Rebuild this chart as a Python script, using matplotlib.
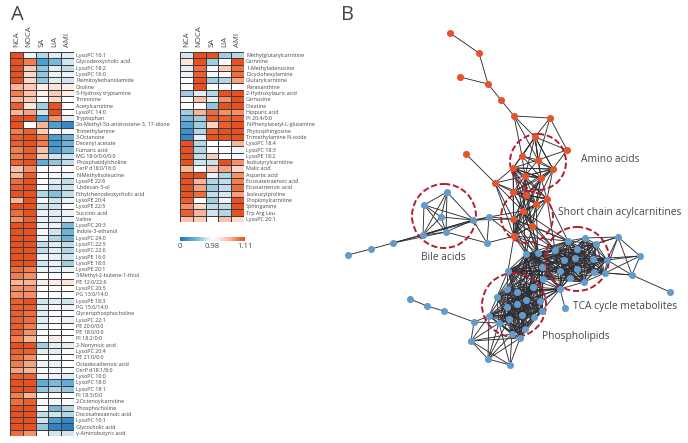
#!/usr/bin/env python3
"""Metabolite heatmaps (A) and correlation network (B)"""
from itertools import combinations, product

import numpy as np
import matplotlib
matplotlib.use('Agg')
import matplotlib.pyplot as plt
from matplotlib.collections import LineCollection
from matplotlib.colors import LinearSegmentedColormap, TwoSlopeNorm
from matplotlib.patches import Circle

plt.rcParams['font.family'] = ['Open Sans', 'DejaVu Sans']

columns = ['NCA', 'NOCA', 'SA', 'LIA', 'AMI']

left_labels = [
    'LysoPC 16:1', 'Glycodeoxycholic acid', 'LysoPC 18:2', 'LysoPC 16:0', 'Palmitoylethanolamide',
    'Choline', '5-Hydroxy tryptamine', 'Threonine', 'Acetylcarnitine', 'LysoPC 14:0',
    'Tryptophan', '2α-Methyl-5α-androstane-3, 17-dione', 'Trimethylamine', '3-Octanone', 'Decenyl acetate',
    'Fumaric acid', 'MG 18:0/0:0/0:0', 'Phosphatidylcholine', 'CerP d18:0/16:0', 'N-Methylisoleucine',
    'LysoPE 22:6', 'Undecan-3-ol', 'Ethylchenodeoxycholic acid', 'LysoPE 20:4', 'LysoPE 22:5',
    'Succinic acid', 'Valine', 'LysoPC 20:3', 'Indole-3-ethanol', 'LysoPC 24:0',
    'LysoPC 22:5', 'LysoPC 22:6', 'LysoPE 16:0', 'LysoPE 18:0', 'LysoPE 20:1',
    '3-Methyl-2-butene-1-thiol', 'PE 12:0/22:6', 'LysoPC 20:5', 'PG 13:0/14:0', 'LysoPE 18:3',
    'PG 15:0/14:0', 'Glycerophosphocholine', 'LysoPC 22:1', 'PE 20:0/0:0', 'PE 18:0/0:0',
    'PI 18:2/0:0', '2-Nonynoic acid', 'LysoPC 20:4', 'PE 21:0/0:0', 'Octadecadienoic acid',
    'CerP d18:1/8:0', 'LysoPC 10:0', 'LysoPC 18:0', 'LysoPC 18:1', 'PI 18:3/0:0',
    '2-Octenoylcarnitine', 'Phosphocholine', 'Docosahexaenoic acid', 'LysoPC 16:1', 'Glycocholic acid',
    'γ-Aminobutyric acid',
]

left_values = [
    [1.11, 0.90, 0.70, 0.85, 0.85], [1.11, 1.08, 0.30, 0.50, 0.80], [1.11, 1.03, 0.60, 0.85, 0.75],
    [1.11, 1.02, 0.60, 0.90, 0.90], [1.11, 1.02, 0.60, 0.85, 0.80], [1.05, 1.03, 1.00, 1.01, 1.00],
    [1.08, 1.04, 1.00, 1.03, 1.00], [1.05, 1.03, 0.98, 1.02, 0.98], [1.10, 1.01, 0.65, 1.11, 0.98],
    [1.05, 1.06, 0.80, 1.11, 0.98], [1.11, 1.11, 0.30, 1.07, 0.88], [1.11, 0.98, 1.05, 0.30, 0.15],
    [1.08, 1.10, 1.03, 0.95, 0.92], [1.10, 1.11, 1.08, 0.30, 0.45], [1.10, 1.11, 1.08, 0.25, 0.45],
    [1.08, 1.10, 1.04, 0.30, 0.50], [1.08, 1.10, 1.03, 0.80, 0.80], [1.10, 1.11, 0.40, 0.60, 0.75],
    [1.04, 1.07, 0.98, 0.98, 0.98], [1.05, 1.10, 0.98, 0.95, 0.90], [1.09, 1.11, 0.98, 0.85, 0.75],
    [1.10, 1.11, 0.98, 0.80, 0.80], [1.11, 1.11, 0.70, 0.55, 0.75], [1.05, 1.11, 0.95, 0.80, 0.90],
    [1.11, 1.11, 0.80, 0.80, 0.95], [1.09, 1.11, 0.90, 0.85, 0.90], [1.07, 1.10, 0.90, 0.85, 0.90],
    [1.11, 1.11, 0.90, 0.90, 0.50], [1.11, 1.11, 0.95, 0.80, 0.45], [1.11, 1.11, 0.90, 0.70, 0.45],
    [1.11, 1.11, 0.75, 0.85, 0.75], [1.11, 1.11, 0.75, 0.85, 0.70], [1.11, 1.11, 0.90, 0.90, 0.80],
    [1.11, 1.11, 0.80, 0.90, 0.65], [1.09, 1.08, 0.90, 0.90, 0.90], [1.08, 1.07, 0.98, 0.98, 0.98],
    [1.05, 1.05, 1.00, 1.00, 1.01], [1.07, 1.07, 0.98, 0.98, 0.98], [1.07, 1.07, 0.98, 0.98, 0.98],
    [1.10, 1.11, 0.80, 0.85, 0.80], [1.10, 1.10, 0.85, 0.95, 0.90], [1.10, 1.09, 0.85, 0.98, 0.98],
    [1.10, 1.09, 0.85, 0.98, 0.90], [1.10, 1.08, 0.90, 0.98, 0.95], [1.10, 1.07, 0.95, 0.98, 0.98],
    [1.08, 1.05, 0.98, 1.00, 0.98], [1.11, 1.11, 0.65, 0.85, 0.85], [1.10, 1.10, 0.85, 0.85, 0.95],
    [1.09, 1.07, 0.98, 0.98, 0.98], [1.08, 1.06, 0.90, 0.90, 0.98], [1.06, 1.05, 0.95, 0.95, 0.95],
    [1.10, 1.10, 0.90, 0.90, 0.85], [1.11, 1.11, 0.40, 0.50, 0.40], [1.11, 1.11, 0.60, 0.70, 0.60],
    [1.08, 1.05, 0.98, 0.98, 0.98], [1.09, 1.10, 0.95, 0.95, 0.95], [1.11, 1.11, 0.95, 0.50, 0.70],
    [1.11, 1.11, 0.75, 0.80, 0.70], [1.11, 1.11, 0.80, 0.30, 0.15], [1.11, 1.11, 0.60, 0.10, 0.05],
    [1.09, 1.07, 0.98, 0.80, 0.80],
]

right_labels = [
    'Methylglutarylcarnitine', 'Carnitine', '1-Methyladenosine', 'Dicyclohexylamine', 'Glutarylcarnitine',
    'Paraxanthine', '2-Hydroxylauric acid', 'Carnosine', 'Creatine', 'Hippuric acid',
    'PI 20:4/0:0', 'N-Phenylacetyl-L-glutamine', 'Phytosphingosine', 'Trimethylamine N-oxide', 'LysoPC 18:4',
    'LysoPC 18:3', 'LysoPE 18:2', 'Isobutyrylcarnitine', 'Malic acid', 'Aspartic acid',
    'Eicosatetraenoic acid', 'Eicosatrienoic acid', 'Isoleucylproline', 'Propionylcarnitine', 'Sphinganine',
    'Trp Arg Leu', 'LysoPC 20:1',
]

right_values = [
    [0.80, 1.11, 1.11, 0.65, 0.70], [1.01, 1.11, 0.65, 0.98, 1.11], [0.88, 1.09, 0.95, 1.03, 1.09],
    [0.90, 1.10, 0.92, 0.98, 1.09], [0.98, 1.11, 0.65, 0.70, 1.06], [0.98, 1.11, 0.98, 0.98, 0.98],
    [0.65, 0.85, 0.70, 1.11, 1.11], [0.95, 1.04, 0.85, 1.07, 1.11], [0.98, 0.98, 0.60, 1.11, 1.11],
    [0.65, 1.05, 1.09, 1.07, 1.07], [0.50, 0.65, 1.10, 1.10, 1.10], [0.35, 0.65, 1.02, 1.10, 1.11],
    [0.20, 0.70, 1.10, 1.11, 1.11], [0.15, 0.88, 1.11, 1.11, 1.11], [1.11, 0.70, 0.98, 0.98, 1.05],
    [1.11, 0.70, 0.98, 0.98, 0.92], [1.11, 0.75, 1.03, 0.98, 0.93], [1.11, 0.78, 0.78, 1.11, 1.07],
    [1.05, 0.98, 1.03, 1.06, 1.02], [1.11, 1.11, 0.90, 0.70, 1.07], [1.11, 1.05, 0.70, 0.75, 1.08],
    [1.11, 1.06, 0.65, 0.75, 1.09], [1.11, 1.09, 0.75, 0.82, 1.06], [1.10, 0.98, 0.65, 0.92, 1.11],
    [1.07, 1.02, 0.75, 0.75, 1.11], [1.10, 1.05, 0.80, 0.70, 1.11], [1.04, 1.03, 0.98, 1.04, 1.02],
]

orange_x = [450, 479, 460, 488, 501, 514, 550, 535, 567, 522, 538, 553, 513, 525, 541,
            466, 495, 513, 526, 547, 536, 523, 513, 532, 514]
orange_y = [33, 53, 77, 84, 100, 116, 118, 137, 150, 156, 160, 169, 168, 176, 178,
            154, 183, 192, 195, 199, 204, 211, 219, 226, 236]

blue_x = [447, 424, 441, 473, 423, 446, 489, 487, 393, 371, 348,
          410, 427, 444, 474, 471, 488, 510,
          507, 517, 533, 497, 526, 540, 507, 517, 542, 489, 509, 522, 534, 499, 525, 512, 520,
          568, 585, 596, 555, 577, 564, 575, 593, 607, 560, 577, 594, 605, 570, 584,
          618, 640, 632, 670, 565, 526, 538, 542, 543, 560, 508]
blue_y = [192, 205, 217, 220, 235, 232, 217, 243, 243, 249, 255,
          299, 306, 311, 322, 341, 359, 365,
          289, 292, 287, 297, 300, 301, 307, 304, 311, 316, 319, 315, 317, 323, 329, 334, 338,
          241, 238, 244, 250, 249, 260, 258, 259, 260, 271, 269, 272, 273, 278, 282,
          237, 256, 275, 292, 308, 254, 253, 267, 279, 289, 271]

orange_edges = [(0, 1), (1, 3), (2, 3), (3, 4), (4, 5), (5, 6), (5, 7), (5, 9), (5, 10), (6, 7),
                (6, 8), (6, 10), (7, 8), (7, 9), (7, 10), (7, 11), (8, 10), (8, 11), (15, 16),
                (16, 12), (16, 13), (16, 17), (16, 18), (16, 21), (16, 22), (16, 24)]
orange_groups = [[9, 10, 11, 12, 13, 14, 7], [12, 13, 14, 17, 18, 19, 20, 11],
                 [17, 18, 19, 20, 21, 22, 23, 24], [12, 13, 14, 21, 23, 24]]

blue_edges = [(0, 1), (0, 2), (0, 3), (0, 4), (0, 5), (1, 2), (1, 3), (1, 4), (1, 5), (2, 3), (2, 4),
              (2, 5), (3, 4), (3, 5), (3, 8), (4, 5), (4, 8), (5, 8), (8, 9), (9, 10), (3, 6), (6, 7),
              (5, 7), (3, 7), (6, 4), (11, 12), (12, 13), (13, 14), (14, 15), (14, 27), (14, 31),
              (15, 16), (15, 17), (15, 27), (15, 31), (15, 33), (15, 34), (16, 17), (16, 27), (16, 31),
              (16, 33), (16, 34), (16, 28), (17, 31), (17, 33), (17, 34), (50, 36), (50, 37), (50, 43),
              (50, 51), (50, 52), (50, 47), (50, 39), (51, 52), (51, 43), (51, 47), (51, 42), (52, 43),
              (52, 47), (52, 46), (52, 53), (54, 59)]
blue_groups = [list(range(18, 35)), list(range(35, 50)), [55, 56, 57, 58, 59, 60, 38, 40, 44, 48]]
bridge_from = [55, 56, 57, 58, 59, 60]
bridge_to = [18, 19, 20, 21, 22, 23, 25, 26, 29, 35, 39, 41, 45, 49]

# orange node, blue node
cross_edges = [(24, 7), (22, 6), (21, 6), (24, 6), (19, 35), (22, 3), (24, 60), (19, 38), (20, 56)]
cross_from = [21, 22, 23, 24]
cross_to = [35, 38, 55, 56, 57]

circle_x = [538, 527, 444, 577, 514]
circle_y = [162, 217, 216, 259, 305]
circle_r = [28, 26, 32, 32, 32]

net_labels = ['Amino acids', 'Short chain acylcarnitines', 'Bile acids', 'TCA cycle metabolites', 'Phospholipids']
net_label_x = [581, 558, 421, 573, 542]
net_label_y = [160, 212, 257, 307, 337]

W, H = 688, 443
TEXT = '#45454c'
cmap = LinearSegmentedColormap.from_list('fc', [
    (0.0, '#2272bb'), (0.15, '#4d9ed0'), (0.3, '#8fc4db'), (0.4, '#cfe3ea'), (0.5, '#ffffff'),
    (0.62, '#fde3d8'), (0.77, '#fab596'), (0.88, '#f47f4e'), (1.0, '#e8501e')])
norm = TwoSlopeNorm(vmin=0, vcenter=0.98, vmax=1.11)


def draw_heatmap(fig, box, values, labels):
    x0, y0, x1, y1 = box
    ax = fig.add_axes([x0 / W, 1 - y1 / H, (x1 - x0) / W, (y1 - y0) / H])
    ax.pcolormesh(np.array(values), cmap=cmap, norm=norm, edgecolors='#3c3c44', linewidth=0.4)
    ax.set_ylim(len(values), 0)
    ax.set_xticks(np.arange(len(columns)) + 0.5, columns, rotation=90, fontsize=5.6, color=TEXT)
    ax.xaxis.tick_top()
    ax.set_yticks(np.arange(len(labels)) + 0.5, labels, fontsize=3.9, color=TEXT)
    ax.yaxis.tick_right()
    ax.tick_params(axis='x', length=0, pad=3.5)
    ax.tick_params(axis='y', length=0, pad=1.5)
    for s in ax.spines.values():
        s.set_visible(False)
    return ax


fig = plt.figure(figsize=(W / 100, H / 100), dpi=100)

# network in pixel coordinates of the whole figure
ax = fig.add_axes([0, 0, 1, 1])
ax.set_xlim(0, W)
ax.set_ylim(H, 0)
ax.axis('off')

segs = []
for a, b in orange_edges:
    segs.append([(orange_x[a], orange_y[a]), (orange_x[b], orange_y[b])])
for group in orange_groups:
    for a, b in combinations(group, 2):
        segs.append([(orange_x[a], orange_y[a]), (orange_x[b], orange_y[b])])
for a, b in blue_edges:
    segs.append([(blue_x[a], blue_y[a]), (blue_x[b], blue_y[b])])
for group in blue_groups:
    for a, b in combinations(group, 2):
        segs.append([(blue_x[a], blue_y[a]), (blue_x[b], blue_y[b])])
for a, b in product(bridge_from, bridge_to):
    segs.append([(blue_x[a], blue_y[a]), (blue_x[b], blue_y[b])])
for a, b in cross_edges + list(product(cross_from, cross_to)):
    segs.append([(orange_x[a], orange_y[a]), (blue_x[b], blue_y[b])])
ax.add_collection(LineCollection(segs, colors='#2e2e33', linewidths=0.65, zorder=1))

for x, y, r in zip(circle_x, circle_y, circle_r):
    ax.add_patch(Circle((x, y), r, fill=False, ec='#b01f30', lw=1.4, ls=(0, (3.2, 1.4)), zorder=2))

ax.scatter(orange_x, orange_y, s=26, c='#e9522a', lw=0, zorder=3)
ax.scatter(blue_x, blue_y, s=26, c='#659bcb', lw=0, zorder=3)

for t, x, y in zip(net_labels, net_label_x, net_label_y):
    ax.text(x, y, t, fontsize=7.4, color=TEXT, va='center', ha='left')

ax.text(11, 15, 'A', fontsize=14.5, color=TEXT, va='center', ha='left')
ax.text(341, 15, 'B', fontsize=14.5, color=TEXT, va='center', ha='left')

draw_heatmap(fig, (10, 52, 74, 436), left_values, left_labels)
draw_heatmap(fig, (180, 52, 244, 222), right_values, right_labels)

# colour bar
cax = fig.add_axes([180 / W, 1 - 241 / H, 65 / W, 4 / H])
cb = fig.colorbar(plt.cm.ScalarMappable(norm=norm, cmap=cmap), cax=cax, orientation='horizontal')
cb.set_ticks([0, 0.98, 1.11], labels=['0', '0.98', '1.11'])
cb.ax.tick_params(length=0, labelsize=5.5, labelcolor=TEXT, pad=1.5)
cb.outline.set_visible(False)

fig.savefig('out.png', dpi=100)
